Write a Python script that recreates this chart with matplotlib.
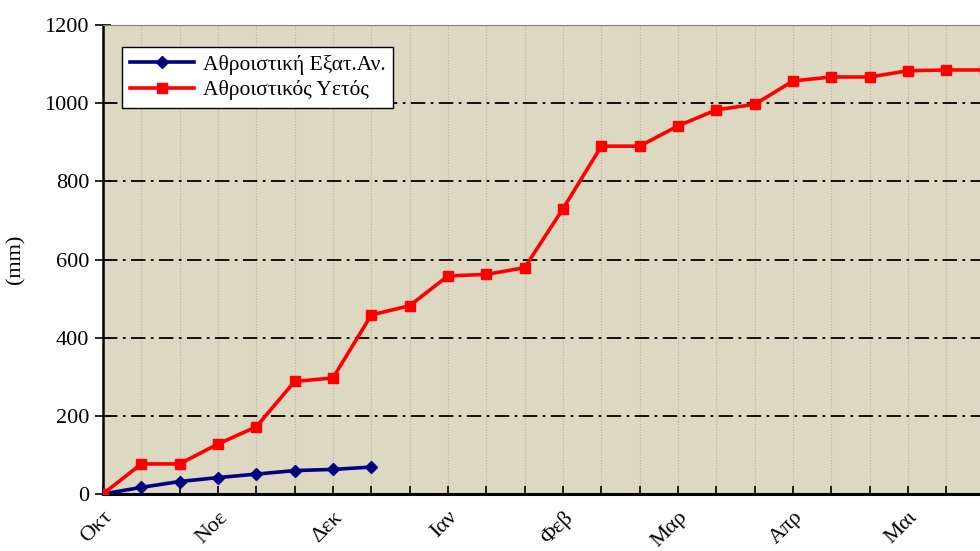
import matplotlib
matplotlib.use("Agg")
import matplotlib.pyplot as plt

plt.rcParams['font.family'] = ['Liberation Serif', 'DejaVu Serif']

# αθροιστικός υετός (mm), ανά δεκαήμερο από Οκτ
rain = [0, 77, 77, 128, 172, 288, 297, 458, 482, 558, 562, 579,
        730, 890, 890, 942, 983, 997, 1057, 1067, 1067, 1083, 1085, 1085]
# αθροιστική εξατμισοδιαπνοή (mm)
evap = [0, 17, 32, 42, 51, 60, 63, 69]

month_labels = ["Οκτ", "Νοε", "Δεκ", "Ιαν", "Φεβ", "Μαρ", "Απρ", "Μαι"]
month_pos = [0, 3, 6, 9, 12, 15, 18, 21]
yticks = [0, 200, 400, 600, 800, 1000, 1200]

fig = plt.figure(figsize=(9.8, 5.51), dpi=100)
ax = fig.add_axes([0.105, 0.1034, 0.939, 0.8512])
ax.set_facecolor("#DCD8C1")

# κατακόρυφες γραμμές πλέγματος
for i in range(len(rain) + 1):
    ax.axvline(i, color="#B4B0A2", lw=0.8, ls=(0, (1, 1.5)), zorder=1)
for v in yticks[1:]:
    ax.axhline(v, color="black", lw=1.3, ls=(0, (8, 3, 1.5, 3)), zorder=1)

ax.plot(range(len(evap)), evap, color="#000080", lw=2.6, marker="D",
        ms=6, label="Αθροιστική Εξατ.Αν.", zorder=3)
ax.plot(range(len(rain)), rain, color="#FF0000", lw=2.6, marker="s",
        ms=6.5, label="Αθροιστικός Υετός", zorder=4)

ax.set_xlim(0, 24)
ax.set_ylim(0, 1200)
ax.set_yticks(yticks)
ax.set_xticks(month_pos)
ax.set_xticklabels(month_labels, rotation=45, ha="right", va="top",
                   rotation_mode="anchor", fontsize=16)
ax.set_xticks(range(25), minor=True)
ax.tick_params(axis="x", which="both", direction="in", length=6, width=1.2)
ax.tick_params(axis="x", which="major", pad=10)
ax.tick_params(axis="y", direction="inout", length=12, width=1.2,
               labelsize=16, pad=4)
ax.set_ylabel("(mm)", fontsize=16, labelpad=14)

ax.spines["left"].set_linewidth(1.8)
ax.spines["bottom"].set_linewidth(2.2)
ax.spines["top"].set_color("#808080")
ax.spines["right"].set_visible(False)

leg = ax.legend(loc="upper left", bbox_to_anchor=(0.021, 0.953), fontsize=15.5,
                frameon=True, fancybox=False, handlelength=3.0,
                borderpad=0.35, labelspacing=0.25, borderaxespad=0,
                handletextpad=0.4)
leg.get_frame().set_edgecolor("black")
leg.get_frame().set_linewidth(1.0)
leg.get_frame().set_alpha(1)

fig.savefig("out.png", dpi=100)
